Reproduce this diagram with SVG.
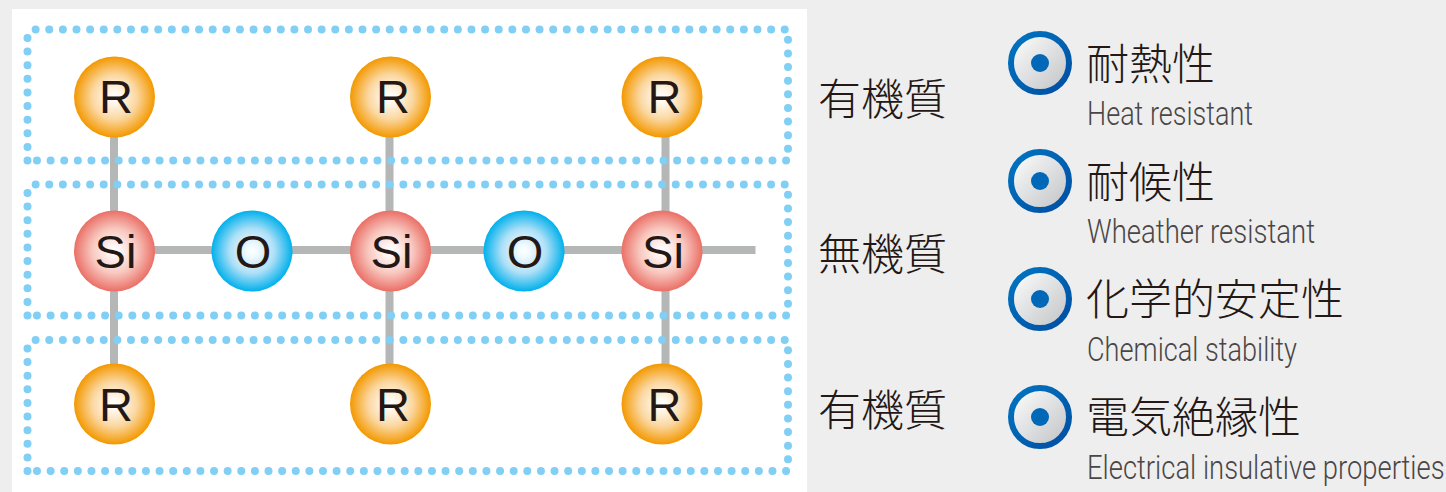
<svg xmlns="http://www.w3.org/2000/svg" width="1446" height="492" viewBox="0 0 1446 492">
<style>
.box{fill:none;stroke:#82cff5;stroke-width:8;stroke-linecap:round;stroke-dasharray:0 13.62}
.bond{stroke:#b5b6b6;stroke-width:8;fill:none}
.atom{font-family:"Liberation Sans",Arial,sans-serif;font-size:47px;fill:#231815;text-anchor:middle}
.jp{font-family:"Noto Sans CJK JP","Noto Sans",sans-serif;font-weight:300;fill:#231815;font-size:43px}
.en{font-family:Roboto,"Liberation Sans",Arial,sans-serif;font-weight:300;font-size:34px;fill:#4a4646}
</style>
<defs>
<radialGradient id="gr"><stop offset="0" stop-color="#fff"/><stop offset=".15" stop-color="#fff8ee"/><stop offset=".55" stop-color="#fbd7a0"/><stop offset="1" stop-color="#f39800"/></radialGradient>
<radialGradient id="gs"><stop offset="0" stop-color="#fff"/><stop offset=".15" stop-color="#fff5f3"/><stop offset=".55" stop-color="#f8c8c0"/><stop offset="1" stop-color="#ea6f66"/></radialGradient>
<radialGradient id="go"><stop offset="0" stop-color="#fff"/><stop offset=".15" stop-color="#f0faff"/><stop offset=".55" stop-color="#aee0f7"/><stop offset="1" stop-color="#00b0ec"/></radialGradient>
<linearGradient id="gb" x1="0" y1="0" x2="1" y2="1"><stop offset="0" stop-color="#fff"/><stop offset="1" stop-color="#bfc1c3"/></linearGradient>
<linearGradient id="gbr" x1="0" y1="0" x2="1" y2="1"><stop offset="0" stop-color="#0075c2"/><stop offset="1" stop-color="#004ea2"/></linearGradient>
<g id="bullet"><circle r="29" fill="url(#gb)" stroke="url(#gbr)" stroke-width="6"/><circle r="9" fill="#0068b7"/></g>
</defs>
<rect width="1446" height="492" fill="#eeeeee"/>
<rect x="12" y="9" width="795" height="483" fill="#fff"/>
<g id="connectors">
<path class="bond" d="M114 97V404M389.500 97V404M665.500 97V404M115 250H755.500"/>
</g>
<g id="group-top"><path class="box" d="M27.500 160.500V37Q27.500 29.500 34 29.500H788V160.500Z"/></g>
<g id="group-mid"><path class="box" d="M27.500 315.500V192Q27.500 184.500 34 184.500H788V315.500Z"/></g>
<g id="group-bot"><path class="box" d="M27.500 471V347.500Q27.500 340 34 340H788V471Z"/></g>
<g id="r1"><circle cx="114.500" cy="97" r="40.500" fill="url(#gr)"/><text class="atom" x="116" y="113">R</text></g>
<g id="r2"><circle cx="390.500" cy="97" r="40.500" fill="url(#gr)"/><text class="atom" x="393" y="113">R</text></g>
<g id="r3"><circle cx="662" cy="97" r="40.500" fill="url(#gr)"/><text class="atom" x="664.500" y="113">R</text></g>
<g id="si1"><circle cx="114.500" cy="251" r="40.500" fill="url(#gs)"/><text class="atom" x="115.500" y="268">Si</text></g>
<g id="o1"><circle cx="252" cy="251" r="40.500" fill="url(#go)"/><text class="atom" x="253" y="268">O</text></g>
<g id="si2"><circle cx="390.500" cy="251" r="40.500" fill="url(#gs)"/><text class="atom" x="391.500" y="268">Si</text></g>
<g id="o2"><circle cx="524" cy="251" r="40.500" fill="url(#go)"/><text class="atom" x="525" y="268">O</text></g>
<g id="si3"><circle cx="662" cy="251" r="40.500" fill="url(#gs)"/><text class="atom" x="663" y="268">Si</text></g>
<g id="r4"><circle cx="114.500" cy="404" r="40.500" fill="url(#gr)"/><text class="atom" x="116" y="421">R</text></g>
<g id="r5"><circle cx="390.500" cy="404" r="40.500" fill="url(#gr)"/><text class="atom" x="393" y="421">R</text></g>
<g id="r6"><circle cx="662" cy="404" r="40.500" fill="url(#gr)"/><text class="atom" x="664.500" y="421">R</text></g>
<g id="label-top"><text class="jp" x="818" y="115">有機質</text></g>
<g id="label-mid"><text class="jp" x="818" y="270">無機質</text></g>
<g id="label-bot"><text class="jp" x="818" y="426">有機質</text></g>
<g id="prop1"><use href="#bullet" x="1040" y="63"/><text class="jp" x="1086" y="80">耐熱性</text><text class="en" x="1087" y="125" textLength="166" lengthAdjust="spacingAndGlyphs">Heat resistant</text></g>
<g id="prop2"><use href="#bullet" x="1040" y="181"/><text class="jp" x="1086" y="198">耐候性</text><text class="en" x="1087" y="243" textLength="228" lengthAdjust="spacingAndGlyphs">Wheather resistant</text></g>
<g id="prop3"><use href="#bullet" x="1040" y="299"/><text class="jp" x="1086" y="315">化学的安定性</text><text class="en" x="1087" y="361" textLength="210" lengthAdjust="spacingAndGlyphs">Chemical stability</text></g>
<g id="prop4"><use href="#bullet" x="1040" y="417"/><text class="jp" x="1086" y="433">電気絶縁性</text><text class="en" transform="translate(1087 479) scale(.8 1)" textLength="447" lengthAdjust="spacingAndGlyphs">Electrical insulative properties</text></g>
</svg>
